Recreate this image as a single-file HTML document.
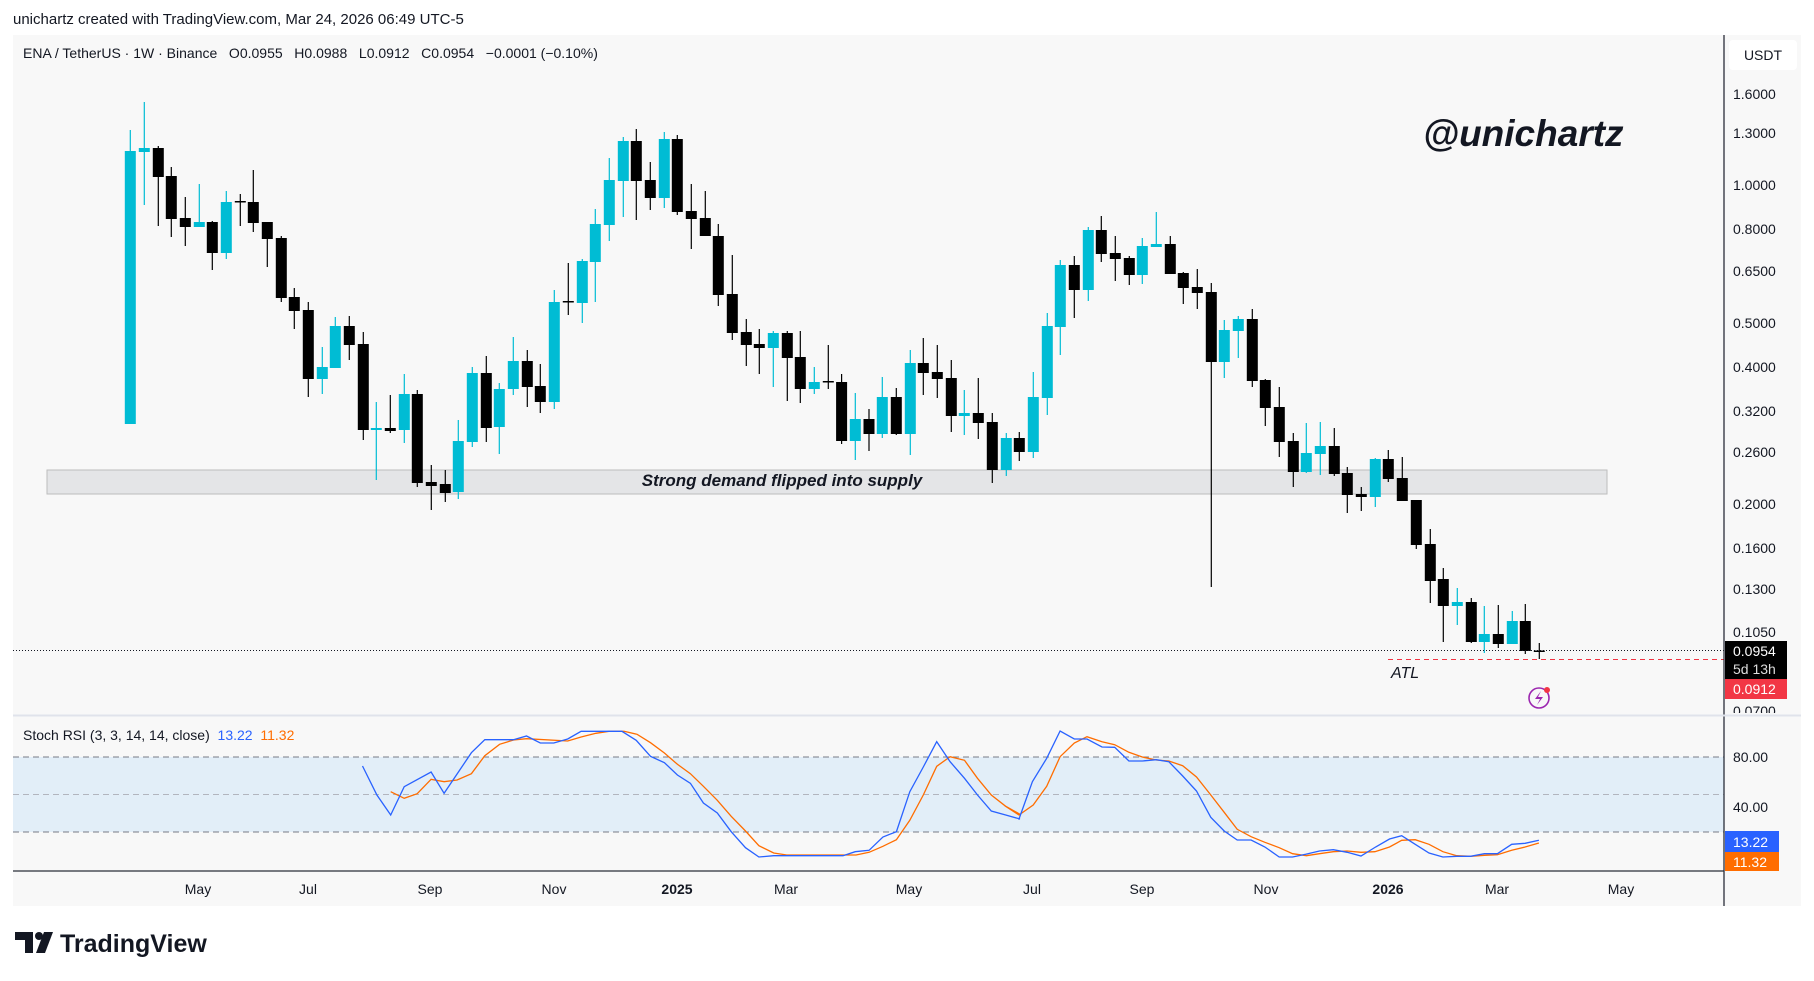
<!DOCTYPE html>
<html><head><meta charset="utf-8"><style>
html,body{margin:0;padding:0;background:#fff;width:1814px;height:981px;overflow:hidden}
svg{display:block;font-family:"Liberation Sans",sans-serif}
</style></head><body>
<svg id="s" width="1814" height="981" viewBox="0 0 1814 981" xmlns="http://www.w3.org/2000/svg">
<rect x="0" y="0" width="1814" height="981" fill="#fff"/>
<text x="13" y="24" font-size="15" fill="#131722">unichartz created with TradingView.com, Mar 24, 2026 06:49 UTC-5</text>
<rect x="13" y="35" width="1788" height="871" fill="#f8f8f8"/>
<rect x="13" y="757" width="1711" height="75" fill="#e2eef8"/>
<line x1="13" y1="757" x2="1724" y2="757" stroke="#787b86" stroke-dasharray="6,4" stroke-width="1"/>
<line x1="13" y1="794.5" x2="1724" y2="794.5" stroke="#b2b5be" stroke-dasharray="6,4" stroke-width="1"/>
<line x1="13" y1="832" x2="1724" y2="832" stroke="#787b86" stroke-dasharray="6,4" stroke-width="1"/>
<rect x="47" y="470" width="1560" height="24" fill="#e4e5e7" stroke="#bdbdbd" stroke-width="1"/>
<text x="782" y="486" font-size="17" font-weight="bold" font-style="italic" text-anchor="middle" fill="#131722">Strong demand flipped into supply</text>
<g id="candles"></g>
<line x1="13" y1="650.5" x2="1724" y2="650.5" stroke="#131722" stroke-dasharray="1,2" stroke-width="1"/>
<line x1="1388" y1="659.5" x2="1724" y2="659.5" stroke="#f23645" stroke-dasharray="5,4" stroke-width="1"/>
<text x="1391" y="678" font-size="16" font-style="italic" fill="#131722">ATL</text>
<text x="1423" y="146" font-size="37" font-weight="bold" font-style="italic" fill="#131722">@unichartz</text>
<circle cx="1539" cy="698" r="10" fill="none" stroke="#9c27b0" stroke-width="1.6"/>
<path d="M1541 691 L1535 699 L1540 699 L1537 705 L1543 697 L1538 697 Z" fill="#9c27b0"/>
<circle cx="1547" cy="690" r="3" fill="#f23645"/>
<g id="rsi"></g>
<line x1="13" y1="715.5" x2="1801" y2="715.5" stroke="#e0e3eb" stroke-width="2"/>
<line x1="13" y1="871" x2="1724" y2="871" stroke="#2a2e39" stroke-width="1.3"/>
<line x1="1724" y1="35" x2="1724" y2="906" stroke="#2a2e39" stroke-width="1.3"/>
<text x="23" y="58" font-size="14" fill="#131722" style="white-space:pre" xml:space="preserve">ENA / TetherUS · 1W · Binance   O0.0955   H0.0988   L0.0912   C0.0954   −0.0001 (−0.10%)</text>
<text x="23" y="740" font-size="14" fill="#131722" style="white-space:pre" xml:space="preserve">Stoch RSI (3, 3, 14, 14, close)  <tspan fill="#2962ff">13.22</tspan>  <tspan fill="#ff6d00">11.32</tspan></text>
<rect x="1729" y="40" width="68" height="30" rx="4" fill="#fff"/>
<text x="1763" y="60" font-size="14" text-anchor="middle" fill="#131722">USDT</text>
<g font-size="14" fill="#131722">
<text x="1733" y="99">1.6000</text><text x="1733" y="138">1.3000</text><text x="1733" y="190">1.0000</text>
<text x="1733" y="234">0.8000</text><text x="1733" y="276">0.6500</text><text x="1733" y="328">0.5000</text>
<text x="1733" y="372">0.4000</text><text x="1733" y="416">0.3200</text><text x="1733" y="457">0.2600</text>
<text x="1733" y="509">0.2000</text><text x="1733" y="553">0.1600</text><text x="1733" y="594">0.1300</text>
<text x="1733" y="637">0.1050</text><text x="1733" y="716">0.0700</text>
<text x="1733" y="762">80.00</text><text x="1733" y="812">40.00</text>
</g>
<rect x="1725" y="641" width="62" height="38" fill="#000"/>
<text x="1733" y="656" font-size="14" fill="#fff">0.0954</text>
<text x="1733" y="674" font-size="14" fill="#ddd">5d 13h</text>
<rect x="1725" y="679" width="62" height="20" fill="#f23645"/>
<text x="1733" y="694" font-size="14" fill="#fff">0.0912</text>
<rect x="1725" y="713" width="62" height="3" fill="#f8f8f8"/>
<line x1="13" y1="715.5" x2="1801" y2="715.5" stroke="#e0e3eb" stroke-width="2"/>
<rect x="1725" y="831" width="54" height="21" fill="#2962ff"/>
<text x="1733" y="847" font-size="14" fill="#fff">13.22</text>
<rect x="1725" y="852" width="54" height="19" fill="#ff6d00"/>
<text x="1733" y="867" font-size="14" fill="#fff">11.32</text>
<g font-size="14" fill="#131722" text-anchor="middle">
<text x="198" y="894">May</text><text x="308" y="894">Jul</text><text x="430" y="894">Sep</text><text x="554" y="894">Nov</text>
<text x="677" y="894" font-weight="bold">2025</text><text x="786" y="894">Mar</text><text x="909" y="894">May</text>
<text x="1032" y="894">Jul</text><text x="1142" y="894">Sep</text><text x="1266" y="894">Nov</text>
<text x="1388" y="894" font-weight="bold">2026</text><text x="1497" y="894">Mar</text><text x="1621" y="894">May</text>
</g>
<path d="M15 932 H33 V953 H25 V940 H15 Z" fill="#131722"/>
<circle cx="39" cy="936" r="4" fill="#131722"/>
<path d="M44 932 H53 L45 953 H36 Z" fill="#131722"/>
<text x="60" y="952" font-size="25" font-weight="bold" fill="#131722">TradingView</text>
</svg>
<script>
var C=[[130.3,151,424,130,424,1],[144.3,148,152,102,205,1],[158.3,148,177,146,226,0],[171.3,176,219,167,237,0],[185.3,218,227,197,246,0],[199.3,222,227,184,227,1],[212.3,222,253,221,270,0],[226.3,202,253,191,259,1],[240.3,201,202,194,226,0],[253.3,202,223,170,232,0],[267.3,222,239,222,267,0],[281.3,238,298,236,302,0],[294.3,297,311,288,329,0],[308.3,310,379,302,397,0],[322.3,367,379,347,394,1],[335.3,326,368,317,368,1],[349.3,326,345,316,360,0],[363.3,344,430,332,440,0],[376.3,428,430,402,480,1],[390.3,428,431,395,433,0],[404.3,394,430,374,443,1],[417.3,394,483,390,487,0],[431.3,482,486,465,510,0],[445.3,484,493,470,502,0],[458.3,441,492,420,499,1],[472.3,373,442,367,447,1],[486.3,373,428,356,442,0],
[499.3,389,427,383,454,1],[513.3,361,389,337,395,1],[527.3,361,387,350,407,0],[540.3,386,402,364,413,0],[554.3,302,402,290,409,1],[568.3,301,302,263,315,0],[582.3,261,303,259,323,1],[595.3,224,262,209,302,1],[609.3,180,225,158,241,1],[623.3,141,181,137,217,1],[636.3,141,181,129,220,0],[650.3,180,198,162,210,0],[664.3,139,198,132,208,1],[677.3,139,212,135,215,0],[691.3,211,219,184,249,0],[705.3,218,236,191,236,0],[718.3,236,295,224,306,0],[732.3,294,333,255,340,0],[746.3,332,345,319,366,0],[759.3,344,348,329,374,0],[773.3,333,348,331,387,1],[787.3,333,358,331,401,0],[800.3,357,389,331,403,0],[814.3,382,389,367,394,1],[828.3,381,382,345,389,0],[841.6,382,441,374,444,0],[855.3,419,441,393,460,1],
[869,419,434,409,451,0],[882.3,397,434,377,438,1],[896.3,397,434,388,435,0],[910.3,363,434,350,455,1],[923.3,363,373,338,395,0],[937.3,372,379,345,398,0],[951.3,378,416,360,432,0],[964.3,413,416,390,435,1],[978.3,413,423,378,439,0],[992.3,422,470,413,483,0],[1006.3,438,470,433,476,1],[1019.3,438,452,432,461,0],[1033.3,397,452,372,458,1],[1047.3,326,398,313,415,1],[1060.3,265,327,260,355,1],[1074.3,265,290,256,318,0],[1088.3,230,290,227,301,1],[1101.3,230,254,216,262,0],[1115.3,253,259,236,281,0],[1129.3,258,275,256,285,0],[1142.3,246,275,238,284,1],[1156.3,244,247,212,247,1],[1170.3,244,274,236,274,0],[1183.3,273,288,272,304,0],[1197.3,287,293,269,309,0],[1211.3,292,362,283,587,0],[1224.3,330,362,320,378,1],
[1238.3,319,331,316,358,1],[1252.3,319,381,309,387,0],[1265.3,380,408,379,426,0],[1279.3,407,442,387,457,0],[1293.3,441,472,433,487,0],[1306.3,453,472,423,473,1],[1320.3,446,454,422,475,1],[1334.3,446,474,428,476,0],[1347.3,473,495,467,513,0],[1361.3,494,497,487,511,0],[1375.3,459,497,458,507,1],[1388.3,459,479,450,482,0],[1402.3,478,501,457,501,0],[1416.3,500,545,500,549,0],[1430.3,544,581,529,603,0],[1443.3,579,606,568,642,0],[1457.3,602,606,588,625,1],[1471.3,602,642,598,643,0],[1484.3,634,642,606,653,1],[1498.3,634,644,605,648,0],[1512.3,621,644,611,644,1],[1525.3,621,651,604,654,0],[1539.3,650.5,651.5,643,659,0]];
var g=document.getElementById("candles"),h="";
C.forEach(function(c){var col=c[5]?"#00bcd4":"#000";var bh=Math.max(1.5,c[2]-c[1]);
h+='<line x1="'+c[0]+'" y1="'+c[3]+'" x2="'+c[0]+'" y2="'+c[4]+'" stroke="'+col+'" stroke-width="1.2"/>';
h+='<rect x="'+(c[0]-5.5)+'" y="'+c[1]+'" width="11" height="'+bh+'" fill="'+col+'"/>';});
g.innerHTML=h;
function pts(a,ox,sx){return a.map(function(p){return (ox+p[0]/sx).toFixed(1)+","+(715+p[1]/3).toFixed(1)}).join(" ")}
var b1=[[52,153],[85,240],[117,300],[148,215],[210,171],[240,235],[303,113],[334,74],[400,74],[430,63],[462,84],[493,84],[525,72],[556,49],[650,49],[683,76],[716,124],[748,143],[778,180],[808,205],[838,264],[870,294],[902,350],[935,398],[966,426],[1000,422],[1160,422],[1188,410],[1220,406],[1252,366],[1283,350],[1314,230],[1345,156],[1376,80],[1407,140],[1440,190],[1470,240],[1502,288],[1535,300],[1568,312]];
var o1=[[117,230],[148,250],[178,236],[210,193],[240,200],[270,195],[303,176],[334,122],[368,88],[400,75],[430,71],[525,78],[556,66],[590,55],[620,49],[655,49],[685,58],[716,83],[748,114],[778,148],[808,176],[838,214],[870,256],[902,304],[935,348],[966,392],[1000,414],[1030,420],[1190,420],[1220,412],[1252,394],[1283,374],[1314,316],[1345,240],[1376,154],[1407,125],[1440,136],[1470,190],[1502,240],[1535,274],[1568,298]];
var b2=[[48,312],[82,200],[118,130],[152,48],[188,72],[220,72],[258,96],[290,97],[326,138],[360,138],[395,134],[427,140],[462,183],[497,228],[533,307],[567,348],[600,375],[635,375],[670,396],[706,426],[740,426],[773,418],[808,408],[843,404],[878,412],[913,423],[950,396],[985,372],[1016,362],[1050,388],[1085,414],[1120,426],[1155,424],[1190,424],[1225,416],[1258,416],[1294,388],[1328,385],[1363,376]];
var o2=[[12,272],[48,300],[84,270],[118,214],[152,125],[188,84],[220,65],[258,80],[290,89],[326,112],[360,126],[395,135],[427,138],[462,152],[497,186],[533,240],[567,292],[600,343],[635,365],[670,382],[706,398],[740,416],[775,422],[808,416],[843,410],[878,408],[913,412],[948,410],[985,396],[1016,376],[1050,374],[1085,388],[1120,410],[1155,422],[1190,424],[1225,421],[1258,419],[1294,406],[1328,396],[1363,384]];
var blue=pts(b1,340,2.306)+" "+pts(b2,1000,2.529), org=pts(o1,340,2.306)+" "+pts(o2,1000,2.529);
document.getElementById("rsi").innerHTML='<polyline points="'+org+'" fill="none" stroke="#ff6d00" stroke-width="1.3"/><polyline points="'+blue+'" fill="none" stroke="#2962ff" stroke-width="1.3"/>';
</script>
</body></html>
